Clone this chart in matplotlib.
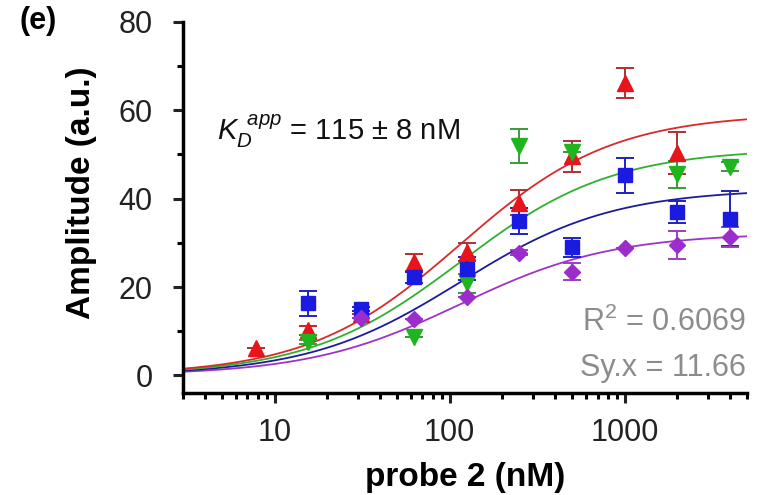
import numpy as np
import matplotlib
matplotlib.use('Agg')
import matplotlib.pyplot as plt
from matplotlib.ticker import LogLocator, MultipleLocator, NullFormatter, FixedLocator, FixedFormatter

plt.rcParams['font.family'] = ['Liberation Sans', 'DejaVu Sans']
plt.rcParams['mathtext.fontset'] = 'custom'
plt.rcParams['mathtext.it'] = 'Liberation Sans:italic'
plt.rcParams['mathtext.rm'] = 'Liberation Sans'

# Concentrations of probe 2 (nM)
conc = [7.8, 15.6, 31.25, 62.5, 125, 250, 500, 1000, 2000, 4000]

# Amplitude per series (nan = no point)
red_y = [6.3, 10.2, 13.8, 25.6, 28.0, 39.1, 49.6, 66.2, 50.3, np.nan]
red_err = [0, 1.0, 0, 1.9, 2.0, 2.8, 3.5, 3.3, 4.8, 0]
green_y = [np.nan, 7.5, np.nan, 8.6, 20.8, 51.9, 50.5, np.nan, 45.5, 47.2]
green_err = [0, 0.5, 0, 0, 2.2, 3.9, 0, 0, 3.0, 1.0]
blue_y = [np.nan, 16.3, 15.0, 22.2, 24.1, 35.0, 29.0, 45.3, 36.9, 35.5]
blue_err = [0, 2.9, 0.5, 1.2, 2.6, 3.0, 2.2, 4.0, 2.5, 6.2]
purple_y = [np.nan, np.nan, 13.0, 12.8, 17.8, 27.8, 23.5, 28.9, 29.5, 31.3]
purple_err = [0, 0, 0, 0, 0, 0.5, 1.9, 0, 3.2, 2.2]

# One-site binding fit: shared Kd, per-series Bmax
kd = 115
bmax = {'red': 59.3, 'green': 51.3, 'blue': 42.2, 'purple': 32.2}

fig = plt.figure(figsize=(7.58, 4.95), dpi=100)
ax = fig.add_axes([0.2414, 0.206, 0.7441, 0.7496])

xfit = np.logspace(np.log10(3), np.log10(5000), 300)
line_colors = {'red': '#d82a2a', 'green': '#30b030', 'blue': '#1c1c98', 'purple': '#a032c8'}
for name in ['purple', 'blue', 'green', 'red']:
    ax.plot(xfit, bmax[name] * xfit / (kd + xfit), color=line_colors[name], lw=1.3, zorder=2)

series = [
    (red_y, red_err, '^', '#e8141b', '#b03030', 12),
    (green_y, green_err, 'v', '#1fb51f', '#3a9a3a', 12),
    (blue_y, blue_err, 's', '#1a1ae0', '#2020c0', 10.5),
    (purple_y, purple_err, 'D', '#9c2ccc', '#9c3ccc', 8.5),
]
for y, err, mk, col, ecol, ms in series:
    ax.errorbar(conc, y, yerr=err, fmt=mk, color=col, mec=col, ms=ms,
                ecolor=ecol, elinewidth=1.4, capsize=6.5, capthick=1.4, zorder=3)

ax.set_xscale('log')
ax.set_xlim(3, 5000)
ax.set_ylim(-4, 80)
ax.xaxis.set_major_locator(FixedLocator([10, 100, 1000]))
ax.xaxis.set_major_formatter(FixedFormatter(['10', '100', '1000']))
ax.xaxis.set_minor_locator(LogLocator(base=10, subs=np.arange(2, 10)))
ax.xaxis.set_minor_formatter(NullFormatter())
ax.yaxis.set_major_locator(MultipleLocator(20))
ax.yaxis.set_minor_locator(MultipleLocator(10))

for s in ['top', 'right']:
    ax.spines[s].set_visible(False)
for s in ['left', 'bottom']:
    ax.spines[s].set_linewidth(2.5)
ax.tick_params(which='major', direction='out', length=7, width=2.2, labelsize=22, colors='#222222')
ax.tick_params(which='minor', direction='out', length=4, width=2.2)
ax.tick_params(axis='y', which='major', pad=15)
ax.tick_params(axis='x', which='major', pad=11)

ax.set_xlabel('probe 2 (nM)', fontsize=24, fontweight='bold', labelpad=10)
ax.set_ylabel('Amplitude (a.u.)', fontsize=24, fontweight='bold')
ax.yaxis.set_label_coords(-0.152, 0.54)

fig.text(0.026, 0.958, '(e)', fontsize=22, fontweight='bold', va='center')
ax.text(0.06, 0.705, r'$K_{D}^{\,\,\,app}$ = 115 ± 8 nM', transform=ax.transAxes,
        fontsize=21, color='#111111', va='center')
ax.text(0.998, 0.19, r'R$^{\mathregular{2}}$ = 0.6069', transform=ax.transAxes, fontsize=22,
        color='#8c8c8c', ha='right', va='center')
ax.text(0.998, 0.067, 'Sy.x = 11.66', transform=ax.transAxes, fontsize=22,
        color='#8c8c8c', ha='right', va='center')

fig.savefig('out.png', dpi=100)
